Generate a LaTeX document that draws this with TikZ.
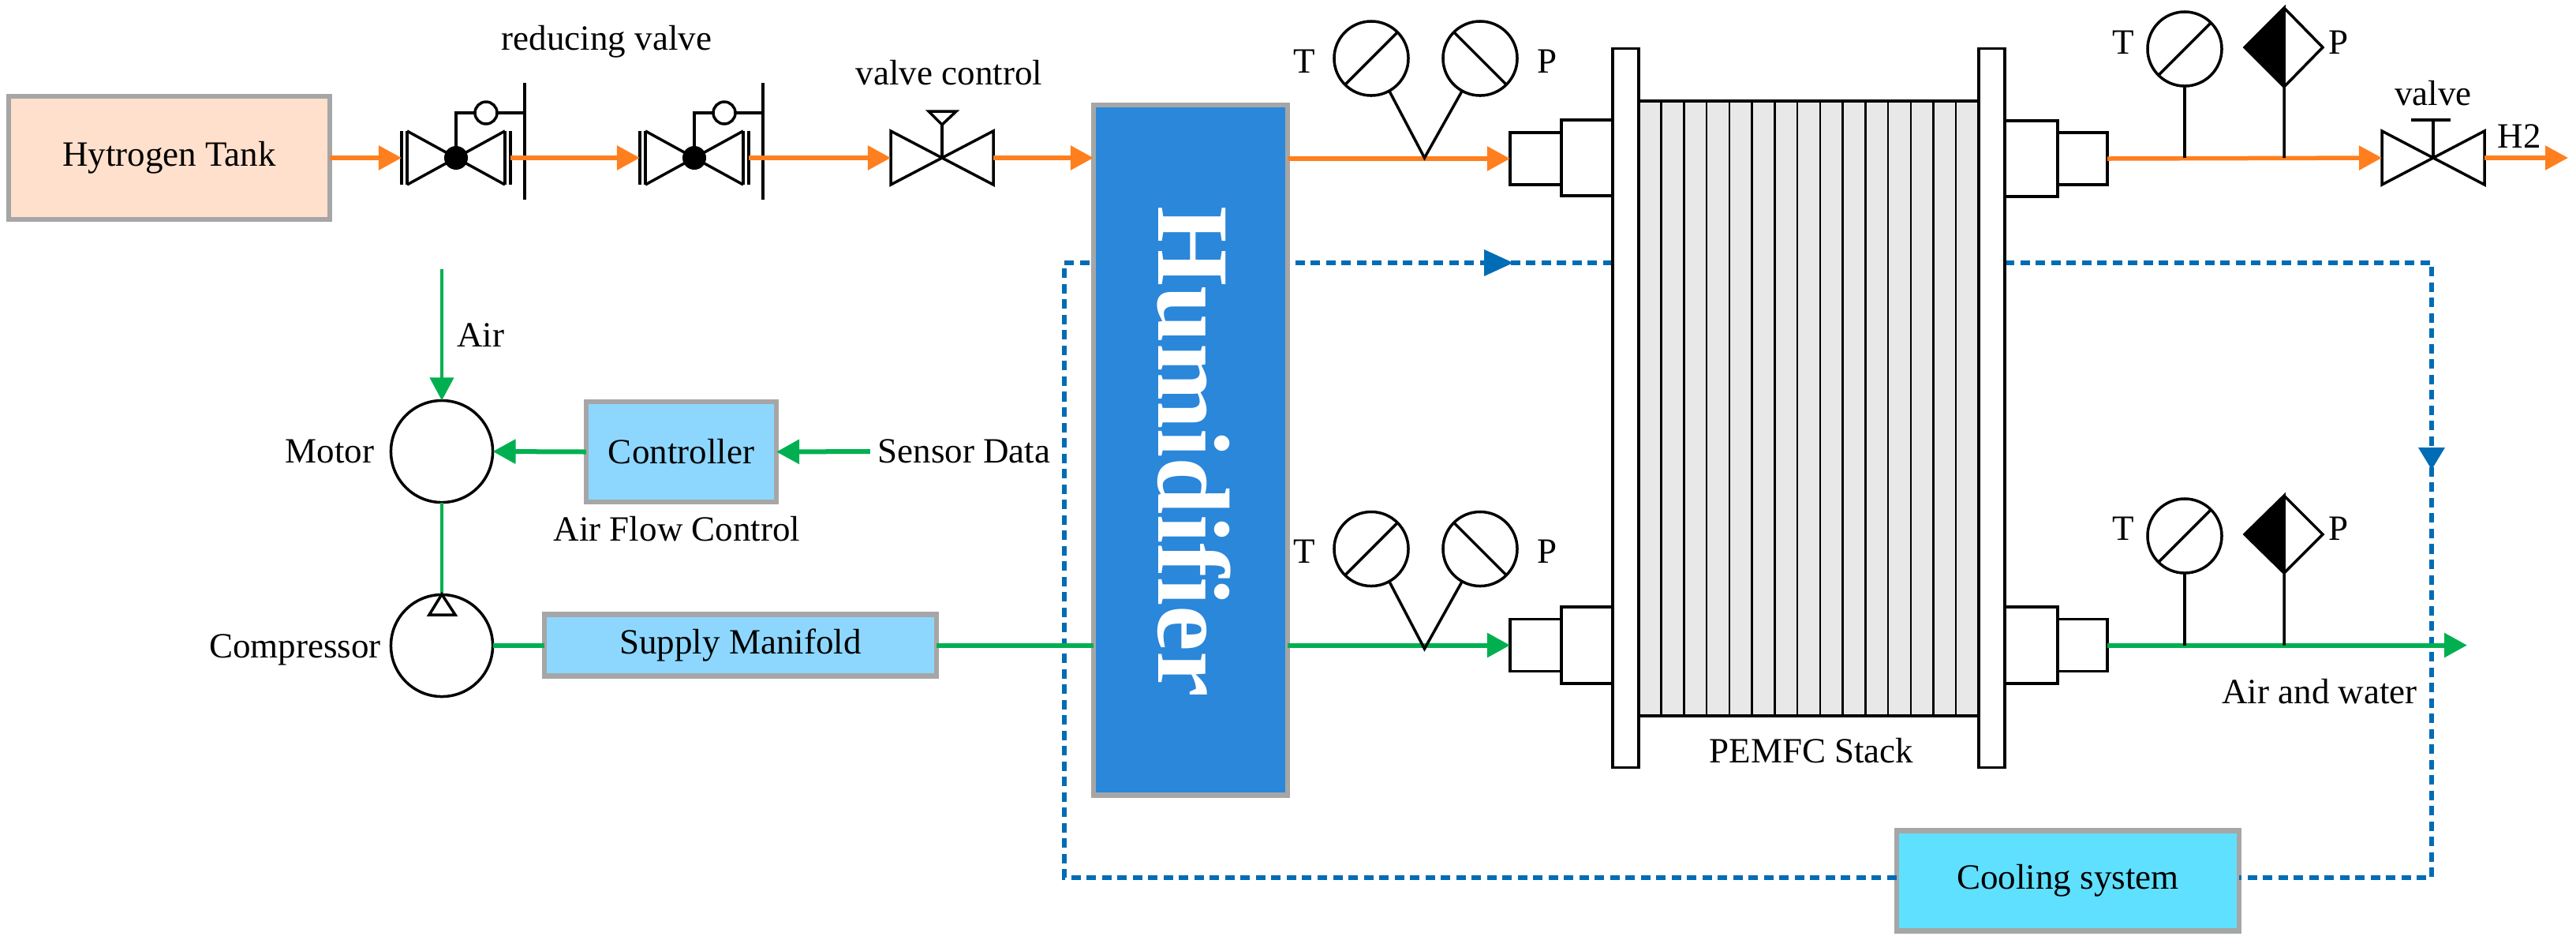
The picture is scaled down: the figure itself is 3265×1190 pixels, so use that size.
\documentclass[tikz,border=0pt]{standalone}
\usepackage{fontspec}
\setmainfont{Liberation Serif}
\usetikzlibrary{arrows.meta}
\definecolor{orangeL}{HTML}{FF7F1E}
\definecolor{greenL}{HTML}{00B050}
\definecolor{blueL}{HTML}{006CB5}
\definecolor{grayB}{HTML}{A6A6A6}
\definecolor{tankF}{HTML}{FFE0CC}
\definecolor{humF}{HTML}{2A87DA}
\definecolor{ctlF}{HTML}{8DD7FF}
\definecolor{coolF}{HTML}{5FE0FF}
\definecolor{stackF}{HTML}{E8E8E8}
\tikzset{
  blk/.style={draw=black,line width=0.035cm},
  txt/.style={font=\fontsize{12.8pt}{15pt}\selectfont,inner sep=0.09cm,text=black},
  box/.style={rectangle,draw=grayB,line width=0.065cm,outer sep=0,inner sep=0,font=\fontsize{12.8pt}{15pt}\selectfont},
  part/.style={rectangle,blk,fill=white,outer sep=0,inner sep=0},
  gauge/.style={circle,blk,fill=white,minimum size=0.94cm,inner sep=0,outer sep=0},
  machine/.style={circle,blk,fill=white,minimum size=1.29cm,inner sep=0,outer sep=0},
  tipO/.style={-{Triangle[length=0.29cm,width=0.30cm]}},
  orangeA/.style={draw=orangeL,line width=0.055cm,tipO},
  orangeN/.style={draw=orangeL,line width=0.055cm},
  greenA/.style={draw=greenL,line width=0.06cm,tipO},
  greenN/.style={draw=greenL,line width=0.06cm},
  greenT/.style={draw=greenL,line width=0.04cm},
  cool/.style={draw=blueL,line width=0.065cm,dash pattern=on 0.12cm off 0.075cm},
  rvalve/.pic={
    \coordinate (-l) at (-69,0);
    \coordinate (-r) at (69,0);
    \draw[blk] (-62,-34)--(62,34) (-62,34)--(62,-34);
    \draw[blk] (-69,-34)--(-69,34) (-62,-34)--(-62,34) (69,-34)--(69,34) (62,-34)--(62,34);
    \fill[black] (0,0) ellipse [x radius=15,y radius=15];
    \draw[blk] (0,0)--(0,-57)--(87,-57);
    \draw[blk] (87,-95)--(87,53);
    \draw[blk,fill=white] (38,-57) circle [radius=14];
  },
  xvalve/.pic={
    \coordinate (-l) at (-65,0);
    \coordinate (-r) at (65,0);
    \draw[blk] (-65,-34)--(65,34)--(65,-34)--(-65,34)--cycle;
  }
}
\begin{document}
\begin{tikzpicture}[x=0.01cm,y=-0.01cm]
\useasboundingbox (0,0) rectangle (3265,1190);

% cooling loop (passes behind humidifier and stack)
\node[box,fill=coolF,minimum width=4.34cm,minimum height=1.27cm] (coolbox) at (2621,1116) {Cooling system};
\coordinate (cblt) at (1349,333);
\coordinate (cbll) at (1349,1112);
\coordinate (cbrt) at (3082,333);
\coordinate (cbrb) at (3082,1112);
\coordinate (cfl) at (2044,333);
\coordinate (cfr) at (2541,333);
\draw[cool] (coolbox.west |- cbll) -- (cbll) -- (cblt) -- (cfl);
\draw[cool] (cfr) -- (cbrt) -- (cbrb) -- (coolbox.east |- cbrb);

% tank and valves
\node[box,fill=tankF,minimum width=4.07cm,minimum height=1.56cm] (tank) at (214.5,200) {Hytrogen Tank};
\pic (v1) at (578,200) {rvalve};
\pic (v2) at (880,200) {rvalve};
\pic (v3) at (1194,200) {xvalve};
\coordinate (v3s) at (1194,158);
\draw[blk] (1194,200)--(v3s);
\draw[blk] (1177,141)--(1212,141)--(v3s)--cycle;
\node[txt] (lred) at (769,53) {reducing valve};
\node[txt] (lctl) at (1203,92) {valve control};

% humidifier
\node[box,fill=humF,minimum width=2.46cm,minimum height=8.74cm] (hum) at (1509,570) {};
\node[rotate=-90,text=white,inner sep=0,font=\fontsize{37pt}{40pt}\selectfont\bfseries] (humt) at (1514,572.5) {Humidifier};

% stack
\node[part,fill=stackF,minimum width=4.31cm,minimum height=7.79cm] (stack) at (2292.5,517.5) {};
\foreach \i in {1,...,14} {\draw[blk,line width=0.025cm] (2077+\i*28.73,128)--(2077+\i*28.73,907);}
\node[part,minimum width=0.33cm,minimum height=9.10cm] (fl) at (2060.5,517) {};
\node[part,minimum width=0.33cm,minimum height=9.10cm] (fr) at (2524.5,517) {};
\node[txt] (lstack) at (2296,951) {PEMFC Stack};

% connectors to stack
\node[part,minimum width=0.65cm,minimum height=0.96cm] (cl1b) at (2011.5,200) {};
\node[part,minimum width=0.65cm,minimum height=0.66cm] (cl1s) at (1946.5,201) {};
\node[part,minimum width=0.67cm,minimum height=0.96cm] (cr1b) at (2574.5,201) {};
\node[part,minimum width=0.63cm,minimum height=0.66cm] (cr1s) at (2639.5,201) {};
\node[part,minimum width=0.65cm,minimum height=0.97cm] (cl2b) at (2011.5,817.5) {};
\node[part,minimum width=0.65cm,minimum height=0.66cm] (cl2s) at (1946.5,817.5) {};
\node[part,minimum width=0.67cm,minimum height=0.97cm] (cr2b) at (2574.5,817.5) {};
\node[part,minimum width=0.63cm,minimum height=0.66cm] (cr2s) at (2639.5,817.5) {};

% hydrogen line
\draw[orangeA] (tank.east) -- (v1-l);
\draw[orangeA] (v1-r) -- (v2-l);
\draw[orangeA] (v2-r) -- (v3-l);
\draw[orangeA] (v3-r) -- (hum.west |- v3-r);
\draw[orangeA] (hum.east |- cl1s) -- (cl1s.west);
\pic (v4) at (3084,200) {xvalve};
\coordinate (v4s) at (3084,152);
\coordinate (h2end) at (3255,200);
\draw[orangeA] (cr1s.east) -- (v4-l);
\draw[orangeA] (v4-r) -- (h2end);
\draw[blk] (3084,200)--(v4s) (3056,152)--(3106,152);
\node[txt] (lvalve) at (3084,118) {valve};
\node[txt] (lh2) at (3193,173) {H2};

% top gauges
\node[gauge] (g1t) at (1738,74) {};
\node[gauge] (g1p) at (1876,74) {};
\coordinate (g1a) at (1805.5,200);
\draw[blk] (g1t.225)--(g1t.45) (g1p.135)--(g1p.-45);
\draw[blk] (g1t.-61)--(g1a)--(g1p.-119);
\node[txt] (l1t) at (1653,78) {T};
\node[txt] (l1p) at (1961,78) {P};

\node[gauge] (g2t) at (2769,62) {};
\coordinate (d1top) at (2895,10);
\coordinate (d1bot) at (2895,110);
\coordinate (d1l) at (2845,60);
\coordinate (d1r) at (2944,60);
\coordinate (s1a) at (2769,200);
\coordinate (s1b) at (2895,200);
\draw[blk] (g2t.225)--(g2t.45);
\draw[blk] (g2t.south)--(s1a);
\filldraw[blk,fill=black] (d1top)--(d1l)--(d1bot)--cycle;
\draw[blk] (d1top)--(d1r)--(d1bot)--(s1b);
\node[txt] (l2t) at (2691,54) {T};
\node[txt] (l2p) at (2964,54) {P};

% air side
\node[machine] (motor) at (560,572) {};
\node[machine] (comp) at (560,818) {};
\coordinate (airin) at (560,341);
\draw[greenT,tipO] (airin) -- (motor.north);
\draw[greenT] (motor.south) -- (comp.north);
\draw[blk] (560,753)--(544,779)--(577,779)--cycle;
\node[txt] (lair) at (609,425) {Air};
\node[txt] (lmotor) at (418,572) {Motor};
\node[txt] (lcomp) at (374,823) {Compressor};
\node[box,fill=ctlF,minimum width=2.41cm,minimum height=1.27cm] (ctrl) at (863.5,572.5) {Controller};
\node[txt] (lsens) at (1222,572) {Sensor Data};
\node[txt] (lafc) at (858,670) {Air Flow Control};
\draw[greenA] (ctrl.west) -- (motor.east);
\draw[greenA] (lsens.west) -- (ctrl.east);
\node[box,fill=ctlF,minimum width=4.97cm,minimum height=0.78cm] (man) at (938.5,817.5) {Supply Manifold};
\draw[greenN] (comp.east |- man.west) -- (man.west);
\draw[greenN] (man.east) -- (hum.west |- man.east);
\draw[greenA] (hum.east |- cl2s) -- (cl2s.west);
\coordinate (airout) at (3127,817.5);
\draw[greenA] (cr2s.east) -- (airout);
\node[txt] (lwater) at (2940,876) {Air and water};

% lower gauges
\node[gauge] (g3t) at (1738,695.5) {};
\node[gauge] (g3p) at (1876,695.5) {};
\coordinate (g3a) at (1805.5,822);
\draw[blk] (g3t.225)--(g3t.45) (g3p.135)--(g3p.-45);
\draw[blk] (g3t.-61)--(g3a)--(g3p.-119);
\node[txt] (l3t) at (1653,698.5) {T};
\node[txt] (l3p) at (1961,698.5) {P};

\node[gauge] (g4t) at (2769,679) {};
\coordinate (d2top) at (2895,628);
\coordinate (d2bot) at (2895,726);
\coordinate (d2l) at (2845,677);
\coordinate (d2r) at (2944,677);
\coordinate (s2a) at (2769,817.5);
\coordinate (s2b) at (2895,817.5);
\draw[blk] (g4t.225)--(g4t.45);
\draw[blk] (g4t.south)--(s2a);
\filldraw[blk,fill=black] (d2top)--(d2l)--(d2bot)--cycle;
\draw[blk] (d2top)--(d2r)--(d2bot)--(s2b);
\node[txt] (l4t) at (2691,669.5) {T};
\node[txt] (l4p) at (2964,669.5) {P};

% cooling arrowheads
\fill[blueL] (1918,333)--(1881,316)--(1881,350)--cycle;
\fill[blueL] (3082,595)--(3065,567)--(3099,567)--cycle;
\end{tikzpicture}
\end{document}
